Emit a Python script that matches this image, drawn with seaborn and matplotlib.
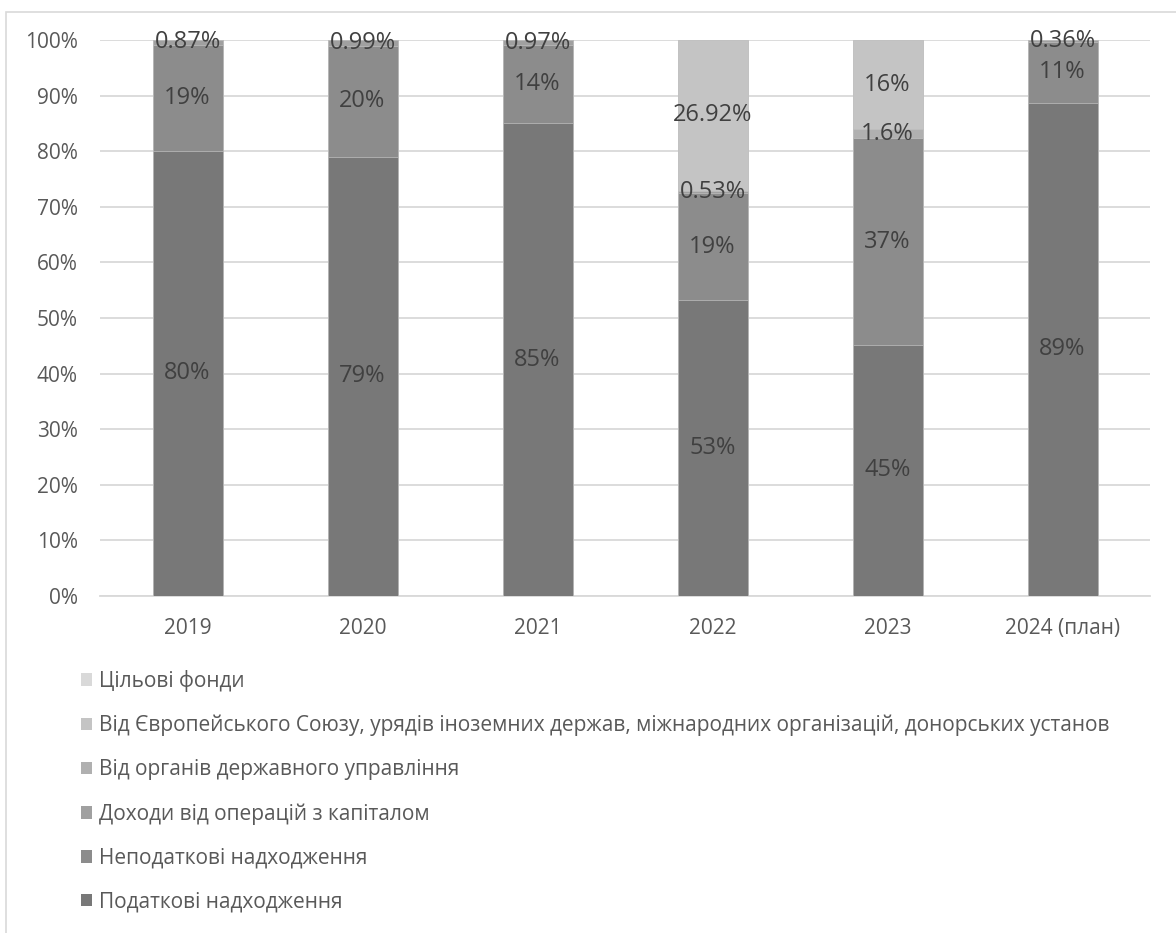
import numpy as np
import pandas as pd
import matplotlib
matplotlib.use("Agg")
import matplotlib.pyplot as plt
from matplotlib.patches import Patch, Rectangle
import seaborn as sns

# Revenue structure by year, in percent of the year's total
years = ["2019", "2020", "2021", "2022", "2023", "2024 (план)"]

series_names = [
    "Податкові надходження",
    "Неподаткові надходження",
    "Доходи від операцій з капіталом",
    "Від органів державного управління",
    "Від Європейського Союзу, урядів іноземних держав, міжнародних організацій, донорських установ",
    "Цільові фонди",
]

tax_revenue = [80, 79, 85, 53, 45, 89]
non_tax_revenue = [19, 20, 14, 19, 37, 11]
capital_operations = [0.87, 0.99, 0.97, 0.53, 0, 0.36]
state_bodies = [0, 0, 0, 0, 1.6, 0]
eu_and_donors = [0, 0, 0, 26.92, 16, 0]
target_funds = [0, 0, 0, 0, 0, 0]

series_colors = ["#787878", "#8c8c8c", "#a0a0a0", "#b0b0b0", "#c4c4c4", "#d9d9d9"]

sns.set_theme(style="white")
plt.rcParams["font.family"] = ["Open Sans", "DejaVu Sans"]

values = pd.DataFrame(
    [tax_revenue, non_tax_revenue, capital_operations,
     state_bodies, eu_and_donors, target_funds],
    index=series_names, columns=years,
)

# 100% stacked: each column is scaled to its own total
shares = values / values.sum(axis=0) * 100
tops = shares.cumsum(axis=0)
bottoms = tops - shares

W, H = 1176, 933
fig = plt.figure(figsize=(W / 100, H / 100), dpi=100)

# light chart-area frame (only its top and left edges fall inside the canvas)
fig.patches.append(Rectangle((5.5 / W, -0.5), 2, 1.5 - 11.5 / H, transform=fig.transFigure,
                             fill=False, edgecolor="#d9d9d9", linewidth=1.2, zorder=0))

ax = fig.add_axes([100 / W, 1 - 596 / H, 1050 / W, 556 / H])

# draw cumulative heights from the top series down so lower series overlay
for i in reversed(range(len(series_names))):
    sns.barplot(x=years, y=tops.iloc[i].values, color=series_colors[i], saturation=1,
                width=0.4, errorbar=None, ax=ax, edgecolor="#c0c0c0", linewidth=0.5,
                zorder=3)

for i, name in enumerate(series_names):
    for j, year in enumerate(years):
        v = values.loc[name, year]
        if v <= 0:
            continue
        y = bottoms.loc[name, year] + shares.loc[name, year] / 2
        ax.text(j, y, f"{v:g}%", ha="center", va="center", fontsize=17,
                color="#404040", zorder=5)

ax.set_ylim(0, 100)
ax.set_xlim(-0.5, len(years) - 0.5)
ax.set_yticks(np.arange(0, 101, 10))
ax.set_yticklabels([f"{t}%" for t in range(0, 101, 10)])
ax.yaxis.grid(True, color="#d9d9d9", linewidth=1.3, zorder=0)
ax.set_axisbelow(True)
for side in ["top", "right", "left"]:
    ax.spines[side].set_visible(False)
ax.spines["bottom"].set_color("#d9d9d9")
ax.spines["bottom"].set_linewidth(1.3)
ax.tick_params(axis="y", length=0, pad=16, labelsize=15, labelcolor="#595959")
ax.tick_params(axis="x", length=0, pad=16, labelsize=15, labelcolor="#595959")
ax.set_xlabel("")
ax.set_ylabel("")

handles = [Patch(facecolor=series_colors[i], edgecolor="none")
           for i in reversed(range(len(series_names)))]
labels = list(reversed(series_names))
fig.legend(handles, labels, loc="upper left", bbox_to_anchor=(81 / W, 1 - 670 / H),
           frameon=False, fontsize=15, labelcolor="#595959", handlelength=0.55,
           handleheight=0.55, handletextpad=0.3, labelspacing=1.1, borderpad=0,
           borderaxespad=0)

fig.savefig("out.png", dpi=100)
